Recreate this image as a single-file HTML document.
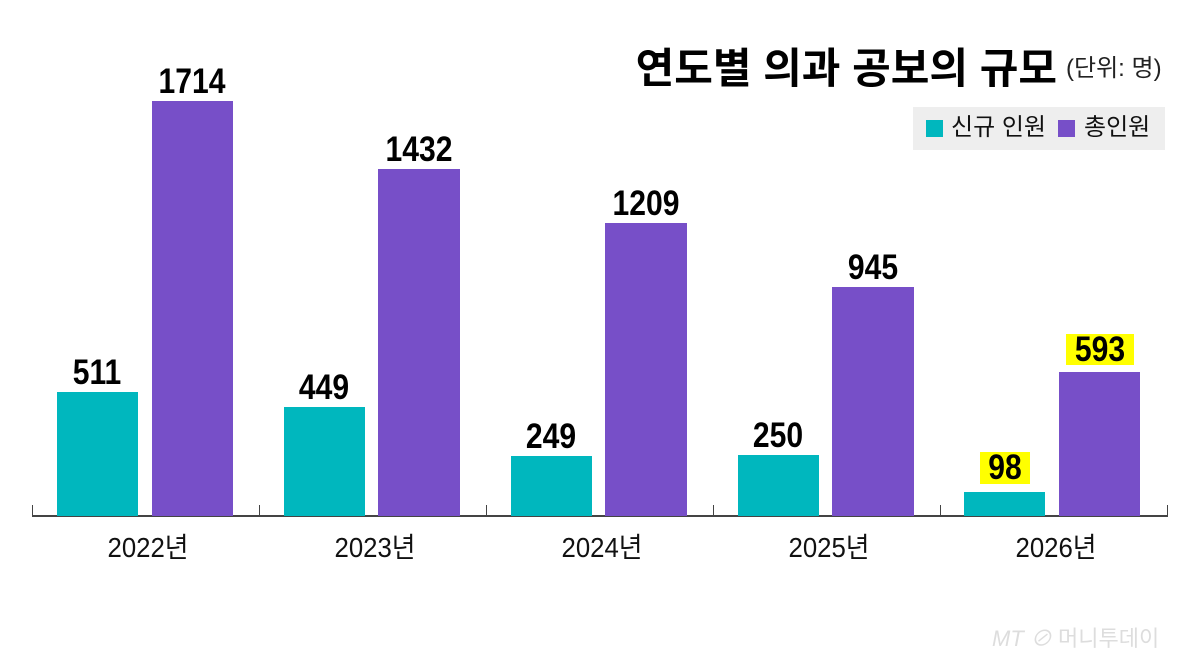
<!DOCTYPE html>
<html><head><meta charset="utf-8"><style>
body{margin:0;width:1200px;height:666px;background:#fff;position:relative;overflow:hidden;font-family:"Liberation Sans","Noto Sans CJK KR",sans-serif}
.a{position:absolute}
.t{background:#00b7be}
.p{background:#774fc8}
.n{position:absolute;width:120px;text-align:center;font-weight:bold;font-size:35px;color:#000;transform:scaleX(0.86);line-height:34px}
.y{position:absolute;width:160px;text-align:center;font-size:28px;color:#111;line-height:30px;transform:scaleX(0.92)}
.tick{position:absolute;top:505px;width:1px;height:11px;background:#444}
</style></head><body>
<div class="a" style="right:143px;top:44px;font-size:42px;font-weight:bold;color:#000;line-height:50px;letter-spacing:0px">연도별 의과 공보의 규모</div>
<div class="a" style="left:1066px;top:54px;font-size:24px;color:#222;line-height:30px">(단위: 명)</div>
<div class="a" style="left:913px;top:107px;width:252px;height:43px;background:#eeeeee"></div>
<div class="a t" style="left:926px;top:120px;width:17px;height:17px"></div>
<div class="a" style="left:951px;top:113px;font-size:24px;line-height:30px;color:#111">신규 인원</div>
<div class="a p" style="left:1058px;top:120px;width:17px;height:17px"></div>
<div class="a" style="left:1084px;top:113px;font-size:24px;line-height:30px;color:#111">총인원</div>

<div class="a" style="left:32px;top:515px;width:1136px;height:2px;background:#444"></div>
<div class="tick" style="left:32px"></div><div class="tick" style="left:259px"></div><div class="tick" style="left:486px"></div><div class="tick" style="left:713px"></div><div class="tick" style="left:940px"></div><div class="tick" style="left:1167px"></div>

<div class="a t" style="left:57px;top:392px;width:81px;height:124px"></div>
<div class="a p" style="left:152px;top:101px;width:81px;height:415px"></div>
<div class="a t" style="left:284px;top:407px;width:81px;height:109px"></div>
<div class="a p" style="left:378px;top:169px;width:82px;height:347px"></div>
<div class="a t" style="left:511px;top:456px;width:81px;height:60px"></div>
<div class="a p" style="left:605px;top:223px;width:82px;height:293px"></div>
<div class="a t" style="left:738px;top:455px;width:81px;height:61px"></div>
<div class="a p" style="left:832px;top:287px;width:82px;height:229px"></div>
<div class="a t" style="left:964px;top:492px;width:81px;height:24px"></div>
<div class="a p" style="left:1059px;top:372px;width:81px;height:144px"></div>

<div class="n" style="left:37px;top:356px">511</div>
<div class="n" style="left:132px;top:65px">1714</div>
<div class="n" style="left:264px;top:371px">449</div>
<div class="n" style="left:359px;top:133px">1432</div>
<div class="n" style="left:491px;top:420px">249</div>
<div class="n" style="left:586px;top:187px">1209</div>
<div class="n" style="left:718px;top:419px">250</div>
<div class="n" style="left:813px;top:251px">945</div>
<div class="a" style="left:980px;top:452px;width:50px;height:32px;background:#ffff00"></div>
<div class="n" style="left:945px;top:451px">98</div>
<div class="a" style="left:1066px;top:334px;width:68px;height:31px;background:#ffff00"></div>
<div class="n" style="left:1040px;top:333px">593</div>

<div class="y" style="left:68px;top:533px">2022년</div>
<div class="y" style="left:295px;top:533px">2023년</div>
<div class="y" style="left:522px;top:533px">2024년</div>
<div class="y" style="left:749px;top:533px">2025년</div>
<div class="y" style="left:976px;top:533px">2026년</div>

<div class="a" style="left:992px;top:626px;font-size:22px;color:#ddd;line-height:26px;font-style:italic">MT ⊘ <span style="font-style:normal">머니투데이</span></div>
</body></html>
